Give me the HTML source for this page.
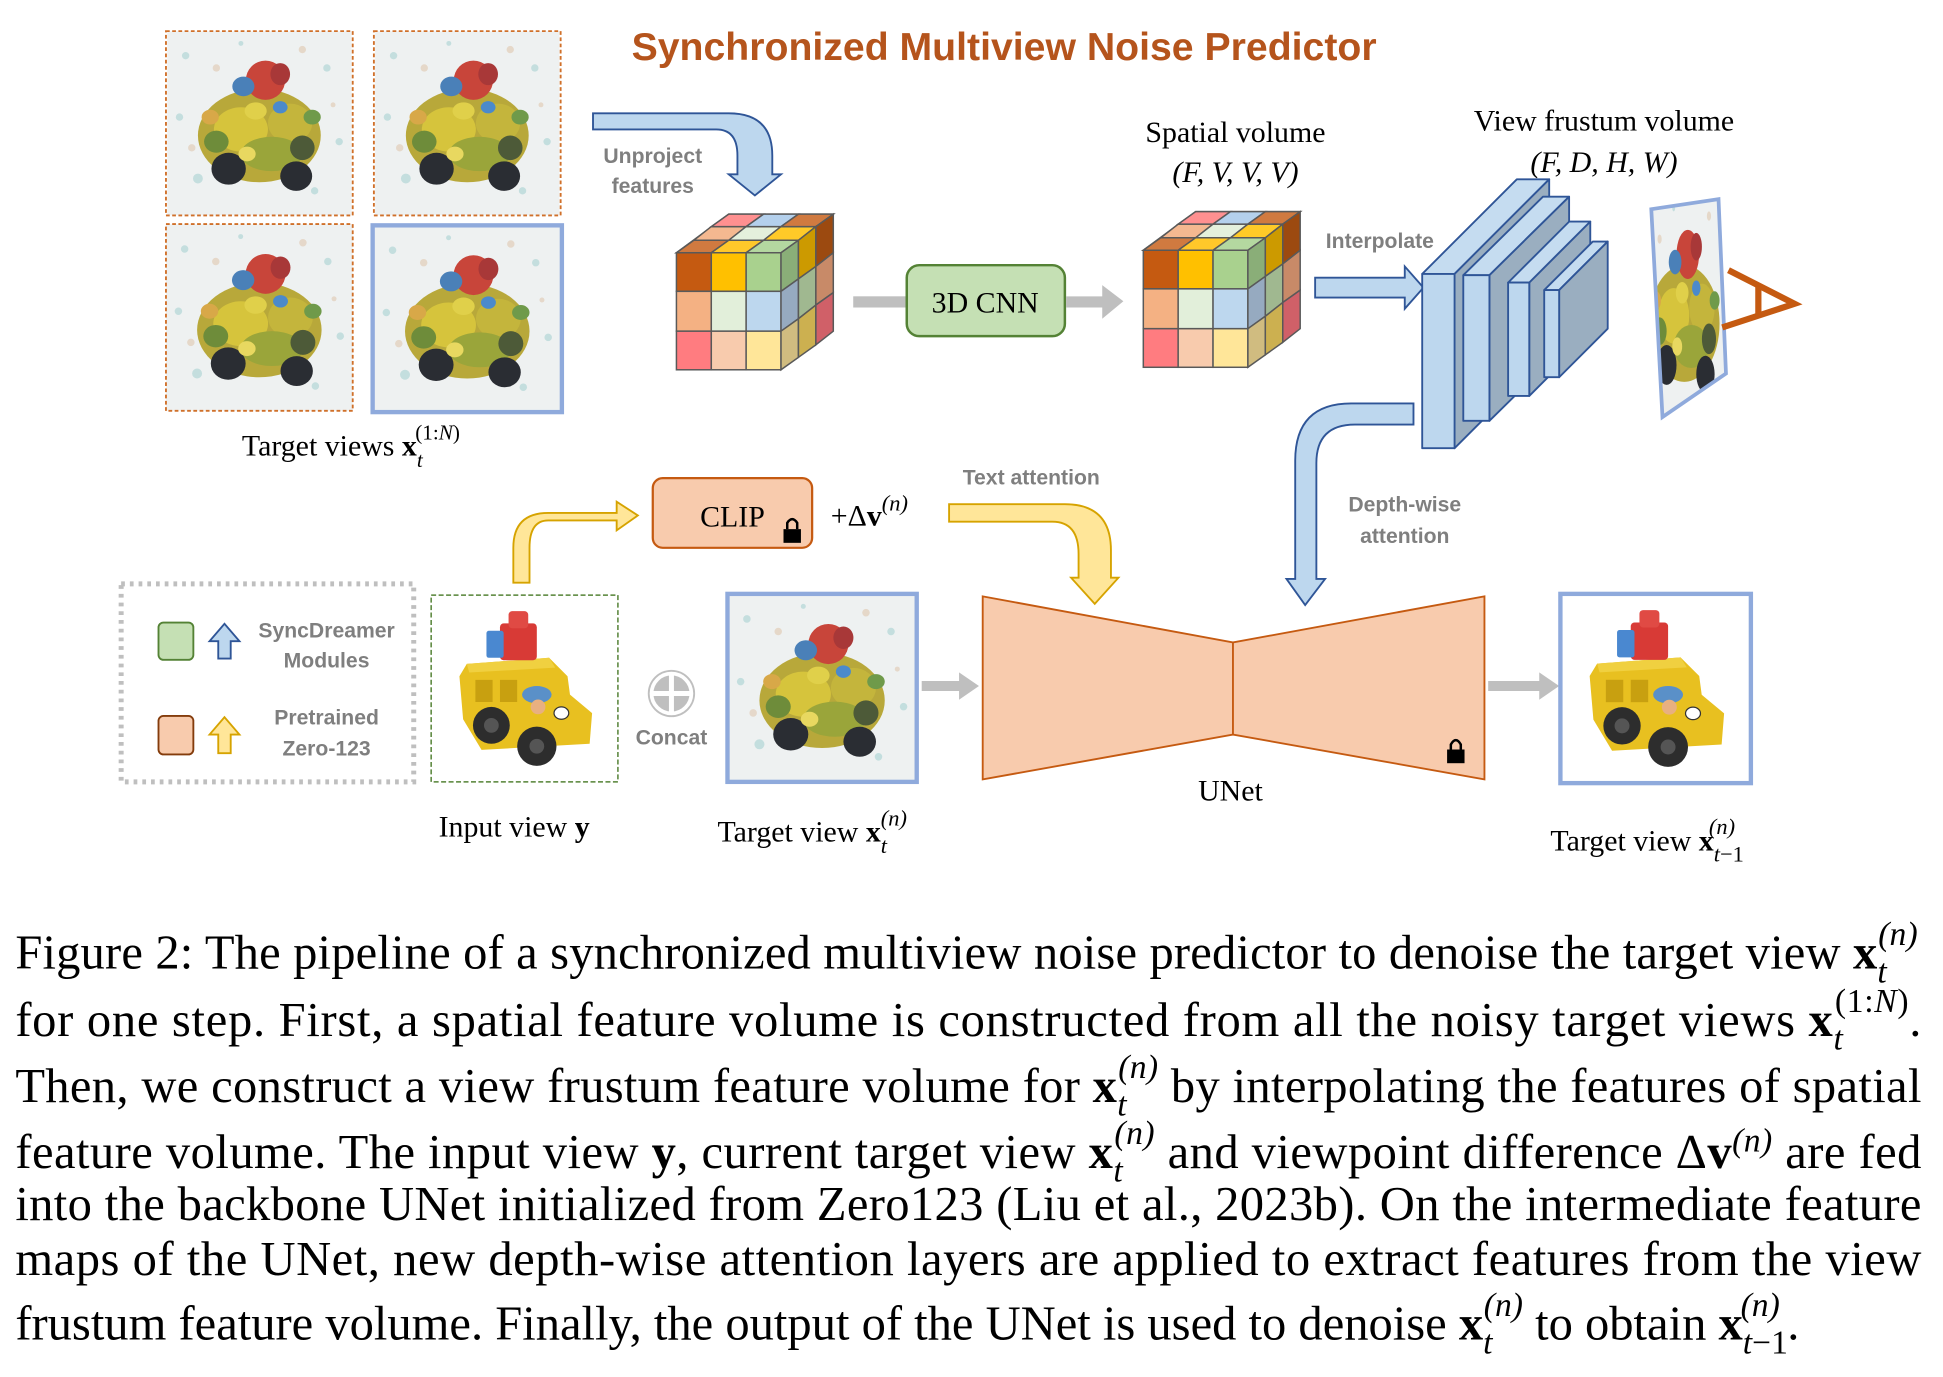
<!DOCTYPE html>
<html><head><meta charset="utf-8"><style>
html,body{margin:0;padding:0;background:#fff}
svg{display:block}
.g{font-family:"Liberation Sans",sans-serif;font-weight:bold;fill:#7f7f7f;font-size:17px;text-anchor:middle}
.s{font-family:"Liberation Serif",serif;font-size:24px;fill:#000}
.c{font-family:"Liberation Serif",serif;font-size:39px;fill:#000}
.b{font-weight:bold}
</style></head><body>
<svg width="1943" height="1377" viewBox="0 0 1560 1106" xmlns="http://www.w3.org/2000/svg">
<defs>
<g id="noisyG">
<rect width="150" height="150" fill="#eef1f1"/>
<g opacity="0.5" fill="#9cc">
<circle cx="15" cy="20" r="3"/><circle cx="130" cy="30" r="3"/><circle cx="25" cy="120" r="4"/><circle cx="120" cy="130" r="3"/><circle cx="60" cy="10" r="2"/><circle cx="140" cy="90" r="3"/><circle cx="10" cy="70" r="3"/>
</g>
<g fill="#e0c8b0" opacity="0.6"><circle cx="40" cy="30" r="3"/><circle cx="110" cy="15" r="3"/><circle cx="135" cy="60" r="2"/><circle cx="20" cy="95" r="3"/></g>
<ellipse cx="75" cy="85" rx="50" ry="38" fill="#b8a83a"/>
<ellipse cx="60" cy="80" rx="22" ry="18" fill="#d6c43c"/>
<ellipse cx="100" cy="75" rx="18" ry="16" fill="#c4b53c"/>
<ellipse cx="85" cy="100" rx="25" ry="14" fill="#9aa53a"/>
<ellipse cx="80" cy="40" rx="16" ry="16" fill="#c8453a"/>
<ellipse cx="92" cy="35" rx="8" ry="9" fill="#a83838"/>
<ellipse cx="62" cy="45" rx="9" ry="8" fill="#4a80b8"/>
<ellipse cx="50" cy="112" rx="14" ry="13" fill="#2a2d33"/>
<ellipse cx="105" cy="118" rx="13" ry="12" fill="#2a2d33"/>
<ellipse cx="40" cy="90" rx="10" ry="9" fill="#6e8c3a"/>
<ellipse cx="110" cy="95" rx="10" ry="10" fill="#4d5a38"/>
<ellipse cx="72" cy="65" rx="9" ry="7" fill="#e0d04a"/>
<ellipse cx="118" cy="70" rx="7" ry="6" fill="#6f9a4a"/>
<ellipse cx="35" cy="70" rx="7" ry="6" fill="#d8a848"/>
<ellipse cx="92" cy="62" rx="6" ry="5" fill="#4b8acb"/>
<ellipse cx="65" cy="100" rx="7" ry="6" fill="#e8d860"/>
</g>
<symbol id="noisy" viewBox="0 0 150 150"><use href="#noisyG"/></symbol>
<symbol id="noisyS" viewBox="0 0 150 150" preserveAspectRatio="none"><use href="#noisyG"/></symbol>
<symbol id="clean" viewBox="0 0 150 150">
<rect width="150" height="150" fill="#fff"/>
<polygon points="28,55 95,50 110,65 112,80 130,95 128,120 40,125 25,100 22,65" fill="#e8c020"/>
<polygon points="28,55 95,50 100,58 30,62" fill="#f0d040"/>
<rect x="35" y="68" width="14" height="18" fill="#c8a010"/><rect x="55" y="68" width="14" height="18" fill="#c8a010"/>
<circle cx="48" cy="105" r="15" fill="#2d2d2d"/><circle cx="48" cy="105" r="6" fill="#555"/>
<circle cx="85" cy="122" r="16" fill="#2d2d2d"/><circle cx="85" cy="122" r="6" fill="#555"/>
<rect x="55" y="22" width="30" height="30" rx="3" fill="#d83a36"/>
<rect x="62" y="12" width="16" height="14" rx="3" fill="#e04a44"/>
<rect x="44" y="28" width="14" height="22" rx="2" fill="#4a88d0"/>
<ellipse cx="85" cy="80" rx="12" ry="7" fill="#5a90c8"/>
<circle cx="86" cy="90" r="6" fill="#e8b080"/>
<ellipse cx="105" cy="95" rx="6" ry="5" fill="#fff" stroke="#333"/>
</symbol>
</defs>

<text x="507" y="48" font-family="Liberation Sans,sans-serif" font-weight="bold" font-size="31.5" fill="#b5541c">Synchronized Multiview Noise Predictor</text>

<use href="#noisy" x="133" y="25" width="150" height="148"/>
<rect x="133" y="25" width="150" height="148" fill="none" stroke="#d0702a" stroke-width="1.5" stroke-dasharray="3,2"/>
<use href="#noisy" x="300" y="25" width="150" height="148"/>
<rect x="300" y="25" width="150" height="148" fill="none" stroke="#d0702a" stroke-width="1.5" stroke-dasharray="3,2"/>
<use href="#noisy" x="133" y="180" width="150" height="150"/>
<rect x="133" y="180" width="150" height="150" fill="none" stroke="#d0702a" stroke-width="1.5" stroke-dasharray="3,2"/>
<use href="#noisy" x="299" y="181" width="152" height="150"/>
<rect x="299" y="181" width="152" height="150" fill="none" stroke="#8faadc" stroke-width="3.5"/>
<text class="s" x="194" y="366">Target views <tspan class="b">x</tspan><tspan font-size="17" dy="9" font-style="italic">t</tspan><tspan font-size="17" dy="-22" dx="-6">(1:<tspan font-style="italic">N</tspan>)</tspan></text>

<path d="M476,91 H585 Q620,91 620,125 V140 H627 L606,157 L585,140 H592 V125 Q592,104 575,104 H476 Z" fill="#bdd7ee" stroke="#2f5597" stroke-width="1.5"/>
<text class="g" x="524" y="131">Unproject</text>
<text class="g" x="524" y="155">features</text>

<g id="cube" stroke="#595959" stroke-width="1.2">
<polygon points="543,203 585,172 669,172 627,203" fill="#d07a40"/>
<polygon points="557,193 571,182 599,182 585,193" fill="#f4b890"/>
<polygon points="585,193 599,182 627,182 613,193" fill="#e4f0dc"/>
<polygon points="613,193 627,182 655,182 641,193" fill="#ffca28"/>
<polygon points="571,182 585,172 613,172 599,182" fill="#ff9090"/>
<polygon points="599,182 613,172 641,172 627,182" fill="#b4d0ec"/>
<polygon points="627,182 641,172 669,172 655,182" fill="#d07a40"/>
<polygon points="543,203 557,193 585,193 571,203" fill="#d07a40"/>
<polygon points="571,203 585,193 613,193 599,203" fill="#ffc82a"/>
<polygon points="599,203 613,193 641,193 627,203" fill="#b4d8a0"/>
<rect x="543" y="203" width="28" height="31" fill="#c55a11"/>
<rect x="571" y="203" width="28" height="31" fill="#ffc000"/>
<rect x="599" y="203" width="28" height="31" fill="#a9d18e"/>
<rect x="543" y="234" width="28" height="32" fill="#f4b183"/>
<rect x="571" y="234" width="28" height="32" fill="#e2efda"/>
<rect x="599" y="234" width="28" height="32" fill="#bdd7ee"/>
<rect x="543" y="266" width="28" height="31" fill="#ff7c80"/>
<rect x="571" y="266" width="28" height="31" fill="#f8cbad"/>
<rect x="599" y="266" width="28" height="31" fill="#ffe699"/>
<polygon points="627,203 641,193 641,224 627,234" fill="#8aae78"/>
<polygon points="641,193 655,182 655,214 641,224" fill="#cc9a00"/>
<polygon points="655,182 669,172 669,203 655,214" fill="#9c4a10"/>
<polygon points="627,234 641,224 641,256 627,266" fill="#96aac0"/>
<polygon points="641,224 655,214 655,245 641,256" fill="#a0b890"/>
<polygon points="655,214 669,203 669,235 655,245" fill="#c88a68"/>
<polygon points="627,266 641,256 641,287 627,297" fill="#d0bc80"/>
<polygon points="641,256 655,245 655,277 641,287" fill="#ccb050"/>
<polygon points="655,245 669,235 669,266 655,277" fill="#d06068"/>
</g>
<use href="#cube" x="375" y="-2"/>

<rect x="685" y="238" width="42" height="9" fill="#bfbfbf"/>
<rect x="728" y="213" width="127" height="57" rx="10" fill="#c5e0b4" stroke="#548235" stroke-width="2"/>
<text class="s" x="791" y="251" text-anchor="middle" font-size="25">3D CNN</text>
<polygon points="856,238 885,238 885,229 902,242 885,256 885,247 856,247" fill="#bfbfbf"/>

<text class="s" x="992" y="114" text-anchor="middle">Spatial volume</text>
<text class="s" x="992" y="146" text-anchor="middle" font-style="italic">(F, V, V, V)</text>

<text class="g" x="1108" y="199">Interpolate</text>
<polygon points="1056,223 1128,223 1128,214 1143,231 1128,248 1128,239 1056,239" fill="#bdd7ee" stroke="#2f5597" stroke-width="1.5"/>

<text class="s" x="1288" y="105" text-anchor="middle">View frustum volume</text>
<text class="s" x="1288" y="138" text-anchor="middle" font-style="italic">(F, D, H, W)</text>

<g stroke="#2f5597" stroke-width="1.5" stroke-linejoin="round">
<polygon points="1142,220 1218,144 1244,144 1168,220" fill="#c5dcf0"/>
<polygon points="1168,220 1244,144 1244,284 1168,360" fill="#9aaec0"/>
<rect x="1142" y="220" width="26" height="140" fill="#bdd7ee"/>
<polygon points="1175,221 1239,158 1260,158 1196,221" fill="#c5dcf0"/>
<polygon points="1196,221 1260,158 1260,275 1196,338" fill="#9aaec0"/>
<rect x="1175" y="221" width="21" height="117" fill="#bdd7ee"/>
<polygon points="1211,227 1260,178 1277,178 1228,227" fill="#c5dcf0"/>
<polygon points="1228,227 1277,178 1277,269 1228,318" fill="#9aaec0"/>
<rect x="1211" y="227" width="17" height="91" fill="#bdd7ee"/>
<polygon points="1240,233 1279,194 1291,194 1252,233" fill="#c5dcf0"/>
<polygon points="1252,233 1291,194 1291,264 1252,303" fill="#9aaec0"/>
<rect x="1240" y="233" width="12" height="70" fill="#bdd7ee"/>
</g>

<clipPath id="sl"><polygon points="1326,168 1380,160 1386,300 1335,335"/></clipPath>
<g clip-path="url(#sl)"><use href="#noisyS" x="1310" y="155" width="85" height="185"/></g>
<polygon points="1326,168 1380,160 1386,300 1335,335" fill="none" stroke="#8faadc" stroke-width="3"/>
<polyline points="1388,217 1441,244 1383,263" fill="none" stroke="#c55a11" stroke-width="5"/>
<line x1="1412" y1="230" x2="1412" y2="254" stroke="#c55a11" stroke-width="5"/>

<path d="M1135,324 H1085 Q1040,324 1040,370 V465 H1033 L1048,486 L1064,465 H1057 V372 Q1057,341 1088,341 H1135 Z" fill="#bdd7ee" stroke="#2f5597" stroke-width="1.5"/>
<text class="g" x="1128" y="411">Depth-wise</text>
<text class="g" x="1128" y="436">attention</text>

<path d="M412,468 V440 Q412,412 440,412 H495 V403 L512,414 L495,426 V418 H440 Q425,418 425,440 V468 Z" fill="#ffe699" stroke="#d6a300" stroke-width="1.5"/>
<rect x="524" y="384" width="128" height="56" rx="8" fill="#f8cbad" stroke="#c55a11" stroke-width="1.8"/>
<text class="s" x="588" y="423" text-anchor="middle" font-size="25">CLIP</text>
<rect x="629" y="425" width="14" height="11" fill="#000"/><path d="M632,425 V420 Q636,414 640,420 V425" fill="none" stroke="#000" stroke-width="2"/>
<text class="s" x="667" y="422">+Δ<tspan class="b">v</tspan><tspan font-size="18" dy="-12" font-style="italic">(n)</tspan></text>

<text class="g" x="828" y="389">Text attention</text>
<path d="M762,405 H855 Q892,405 892,442 V464 H898 L879,485 L860,464 H866 V445 Q866,419 845,419 H762 Z" fill="#ffe699" stroke="#d6a300" stroke-width="1.5"/>

<rect x="97" y="469" width="235" height="159" fill="none" stroke="#bfbfbf" stroke-width="4" stroke-dasharray="3,4"/>
<rect x="127" y="500" width="28" height="30" rx="4" fill="#c5e0b4" stroke="#548235" stroke-width="1.5"/>
<polygon points="168,515 180,501 192,515 185,515 185,529 175,529 175,515" fill="#bdd7ee" stroke="#2f5597" stroke-width="1.5"/>
<text class="g" x="262" y="512">SyncDreamer</text><text class="g" x="262" y="536">Modules</text>
<rect x="127" y="575" width="28" height="31" rx="4" fill="#f8cbad" stroke="#843c0c" stroke-width="1.5"/>
<polygon points="168,590 180,576 192,590 185,590 185,605 175,605 175,590" fill="#ffe699" stroke="#d6a300" stroke-width="1.5"/>
<text class="g" x="262" y="582">Pretrained</text><text class="g" x="262" y="607">Zero-123</text>

<use href="#clean" x="347" y="479" width="148" height="148"/>
<rect x="346" y="478" width="150" height="150" fill="none" stroke="#548235" stroke-width="1.2" stroke-dasharray="4,2"/>
<text class="s" x="352" y="672">Input view <tspan class="b">y</tspan></text>

<circle cx="539" cy="557" r="19" fill="#bfbfbf"/>
<line x1="524" y1="557" x2="554" y2="557" stroke="#fff" stroke-width="4"/><line x1="539" y1="542" x2="539" y2="572" stroke="#fff" stroke-width="4"/>
<circle cx="539" cy="557" r="16" fill="none" stroke="#fff" stroke-width="3"/>
<text class="g" x="539" y="598">Concat</text>

<use href="#noisy" x="584" y="477" width="152" height="151"/>
<rect x="584" y="477" width="152" height="151" fill="none" stroke="#8faadc" stroke-width="3.5"/>
<text class="s" x="576" y="676">Target view <tspan class="b">x</tspan><tspan font-size="18" dy="9" font-style="italic">t</tspan><tspan font-size="18" dy="-22" dx="-5" font-style="italic">(n)</tspan></text>
<polygon points="740,547 770,547 770,540 786,551 770,562 770,555 740,555" fill="#bfbfbf"/>

<polygon points="789,479 990,516 1192,479 1192,626 990,590 789,626" fill="#f8cbad" stroke="#c55a11" stroke-width="1.5"/>
<line x1="990" y1="516" x2="990" y2="590" stroke="#c55a11" stroke-width="1.5"/>
<rect x="1162" y="602" width="14" height="11" fill="#000"/><path d="M1165,602 V598 Q1169,591 1173,598 V602" fill="none" stroke="#000" stroke-width="2"/>
<text class="s" x="988" y="643" text-anchor="middle">UNet</text>

<polygon points="1195,547 1236,547 1236,540 1252,551 1236,562 1236,555 1195,555" fill="#bfbfbf"/>
<use href="#clean" x="1254" y="478" width="151" height="150"/>
<rect x="1253" y="477" width="153" height="152" fill="none" stroke="#8faadc" stroke-width="3.5"/>
<text class="s" x="1245" y="683">Target view <tspan class="b">x</tspan><tspan font-size="18" dy="9" font-style="italic">t</tspan><tspan font-size="18">−1</tspan><tspan font-size="18" dy="-22" dx="-28" font-style="italic">(n)</tspan></text>

<text class="c" x="12" y="778" textLength="1528" lengthAdjust="spacing">Figure 2: The pipeline of a synchronized multiview noise predictor to denoise the target view <tspan class="b">x</tspan><tspan font-size="27" dy="11" font-style="italic">t</tspan><tspan font-size="27" dy="-30" dx="-7" font-style="italic">(n)</tspan></text>
<text class="c" x="12" y="832" textLength="1531" lengthAdjust="spacing">for one step.  First, a spatial feature volume is constructed from all the noisy target views <tspan class="b">x</tspan><tspan font-size="27" dy="11" font-style="italic">t</tspan><tspan font-size="27" dy="-30" dx="-7">(1:<tspan font-style="italic">N</tspan>)</tspan><tspan dy="19">.</tspan></text>
<text class="c" x="12" y="885" textLength="1531" lengthAdjust="spacing">Then, we construct a view frustum feature volume for <tspan class="b">x</tspan><tspan font-size="27" dy="11" font-style="italic">t</tspan><tspan font-size="27" dy="-30" dx="-7" font-style="italic">(n)</tspan><tspan dy="19"> by interpolating the features of spatial</tspan></text>
<text class="c" x="12" y="938" textLength="1531" lengthAdjust="spacing">feature volume. The input view <tspan class="b">y</tspan>, current target view <tspan class="b">x</tspan><tspan font-size="27" dy="11" font-style="italic">t</tspan><tspan font-size="27" dy="-30" dx="-7" font-style="italic">(n)</tspan><tspan dy="19"> and viewpoint difference Δ</tspan><tspan class="b">v</tspan><tspan font-size="27" dy="-13" font-style="italic">(n)</tspan><tspan dy="13"> are fed</tspan></text>
<text class="c" x="12" y="980" textLength="1531" lengthAdjust="spacing">into the backbone UNet initialized from Zero123 (Liu et al., 2023b).  On the intermediate feature</text>
<text class="c" x="12" y="1024" textLength="1531" lengthAdjust="spacing">maps of the UNet, new depth-wise attention layers are applied to extract features from the view</text>
<text class="c" x="12" y="1076">frustum feature volume. Finally, the output of the UNet is used to denoise <tspan class="b">x</tspan><tspan font-size="27" dy="11" font-style="italic">t</tspan><tspan font-size="27" dy="-30" dx="-7" font-style="italic">(n)</tspan><tspan dy="19"> to obtain </tspan><tspan class="b">x</tspan><tspan font-size="27" dy="11" font-style="italic">t</tspan><tspan font-size="27">−1</tspan><tspan font-size="27" dy="-30" dx="-38" font-style="italic">(n)</tspan><tspan dy="19" dx="6">.</tspan></text>
</svg>
</body></html>
